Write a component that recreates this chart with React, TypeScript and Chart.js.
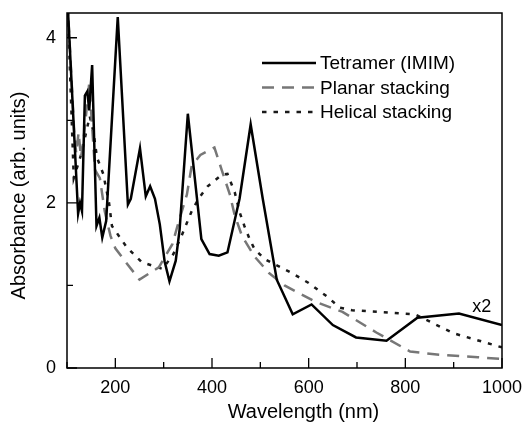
import { useEffect, useRef } from "react";
import { Chart, registerables } from "chart.js";

Chart.register(...registerables);

// ---- data ----
const tetramerX = [101, 123, 127, 131, 137, 142, 146, 152, 161, 167, 173, 181, 205, 226, 232, 251, 263, 272, 282, 292, 302, 312, 325, 333, 350, 378, 395, 414, 432, 457, 480, 505, 534, 567, 606, 650, 698, 761, 825, 911, 1000];
const tetramerY = [4.45, 1.87, 2.0, 1.9, 3.3, 3.35, 3.12, 3.67, 1.72, 1.82, 1.58, 1.78, 4.25, 1.98, 2.05, 2.66, 2.08, 2.2, 2.05, 1.74, 1.29, 1.05, 1.3, 1.68, 3.08, 1.56, 1.38, 1.36, 1.4, 2.05, 2.95, 2.05, 1.07, 0.65, 0.77, 0.52, 0.37, 0.33, 0.61, 0.66, 0.52];

const planarX = [101, 115, 119, 124, 129, 134, 146, 158, 168, 178, 190, 200, 222, 250, 290, 318, 330, 348, 358, 376, 405, 420, 437, 447, 462, 488, 518, 550, 615, 670, 740, 810, 870, 950, 1000];
const planarY = [4.45, 2.85, 2.6, 2.85, 2.55, 2.75, 3.45, 2.4, 2.3, 1.9, 1.6, 1.45, 1.28, 1.07, 1.22, 1.5, 1.75, 2.1, 2.45, 2.58, 2.67, 2.4, 2.1, 1.85, 1.6, 1.35, 1.15, 1.0, 0.8, 0.68, 0.43, 0.2, 0.16, 0.13, 0.11];

const helicalX = [101, 114, 130, 147, 155, 162, 175, 187, 193, 224, 255, 298, 320, 337, 358, 373, 391, 420, 432, 447, 457, 467, 478, 488, 509, 525, 565, 600, 637, 665, 690, 820, 900, 1000];
const helicalY = [4.45, 2.3, 2.6, 3.05, 2.85, 2.55, 2.35, 2.0, 1.72, 1.46, 1.28, 1.2, 1.38, 1.6, 1.9, 2.06, 2.2, 2.34, 2.35, 2.13, 1.89, 1.72, 1.56, 1.44, 1.32, 1.27, 1.15, 1.03, 0.87, 0.73, 0.7, 0.65, 0.42, 0.25];

const seriesLabels = ["Tetramer (IMIM)", "Planar stacking", "Helical stacking"];
const xTickValues = [100, 200, 300, 400, 500, 600, 700, 800, 900, 1000];
const xTickLabels = [200, 400, 600, 800, 1000];
const yTickValues = [0, 1, 2, 3, 4];
const yTickLabels = [0, 2, 4];
const xTitle = "Wavelength (nm)";
const yTitle = "Absorbance (arb. units)";
const noteText = "x2";
const noteAt = { x: 958, y: 0.74 };

const FONT = "'Liberation Sans', Arial, Helvetica, sans-serif";

const toPoints = (xs: number[], ys: number[]) => xs.map((x, i) => ({ x, y: ys[i] }));

const decorPlugin = {
  id: "decor",
  afterDatasetsDraw(chart: any) {
    const { ctx, chartArea: a, scales } = chart;
    const xs = scales.x;
    const ys = scales.y;
    ctx.save();
    // frame
    ctx.strokeStyle = "#000";
    ctx.lineWidth = 1.5;
    ctx.setLineDash([]);
    ctx.beginPath();
    ctx.rect(a.left, a.top, a.right - a.left, a.bottom - a.top);
    ctx.stroke();
    // inward ticks
    ctx.lineWidth = 1.3;
    ctx.beginPath();
    xTickValues.forEach((v) => {
      const px = xs.getPixelForValue(v);
      const len = xTickLabels.includes(v) ? 10 : 6;
      ctx.moveTo(px, a.bottom);
      ctx.lineTo(px, a.bottom - len);
    });
    yTickValues.forEach((v) => {
      const py = ys.getPixelForValue(v);
      const len = yTickLabels.includes(v) ? 10 : 6;
      ctx.moveTo(a.left, py);
      ctx.lineTo(a.left + len, py);
    });
    ctx.stroke();

    // axis titles
    ctx.fillStyle = "#000";
    ctx.font = `20px ${FONT}`;
    ctx.textAlign = "center";
    ctx.textBaseline = "middle";
    ctx.fillText(xTitle, (a.left + a.right) / 2 + 19, 412);
    ctx.save();
    ctx.translate(19, (a.top + a.bottom) / 2 + 5);
    ctx.rotate(-Math.PI / 2);
    ctx.fillText(yTitle, 0, 0);
    ctx.restore();

    // note
    ctx.font = `18px ${FONT}`;
    ctx.fillText(noteText, xs.getPixelForValue(noteAt.x), ys.getPixelForValue(noteAt.y));

    // legend
    ctx.font = `19px ${FONT}`;
    ctx.textAlign = "left";
    chart.data.datasets.forEach((ds: any, i: number) => {
      const y = 63 + i * 24.5;
      ctx.strokeStyle = ds.borderColor;
      ctx.lineWidth = ds.borderWidth;
      ctx.setLineDash(ds.legendDash || []);
      ctx.beginPath();
      ctx.moveTo(262, y);
      ctx.lineTo(316, y);
      ctx.stroke();
      ctx.setLineDash([]);
      ctx.fillStyle = "#000";
      ctx.fillText(ds.label, 320, y + 1);
    });
    ctx.restore();
  },
};

export default function App() {
  const ref = useRef<HTMLCanvasElement>(null);
  useEffect(() => {
    document.body.style.margin = "0";
    const canvas = ref.current!;
    const chart = new Chart(canvas, {
      type: "line",
      data: {
        datasets: [
          {
            label: seriesLabels[0],
            data: toPoints(tetramerX, tetramerY),
            borderColor: "#000",
            borderWidth: 2.5,
            pointRadius: 0,
            tension: 0,
            legendDash: [],
          } as any,
          {
            label: seriesLabels[1],
            data: toPoints(planarX, planarY),
            borderColor: "#777",
            borderWidth: 2.5,
            borderDash: [12, 8],
            pointRadius: 0,
            tension: 0,
            legendDash: [12, 8],
          } as any,
          {
            label: seriesLabels[2],
            data: toPoints(helicalX, helicalY),
            borderColor: "#1a1a1a",
            borderWidth: 2.5,
            borderDash: [4, 7],
            pointRadius: 0,
            tension: 0,
            legendDash: [4.5, 7],
          } as any,
        ],
      },
      options: {
        animation: false,
        responsive: false,
        maintainAspectRatio: false,
        layout: { padding: { left: 0, top: 13, right: 22, bottom: 0 } },
        plugins: { legend: { display: false }, tooltip: { enabled: false } },
        scales: {
          x: {
            type: "linear",
            min: 100,
            max: 1000,
            grid: { display: false, drawTicks: false },
            border: { display: false },
            afterBuildTicks: (s: any) => {
              s.ticks = xTickLabels.map((v) => ({ value: v }));
            },
            afterFit: (s: any) => {
              s.height = 57;
              s.paddingLeft = 0;
              s.paddingRight = 0;
            },
            ticks: {
              autoSkip: false,
              maxRotation: 0,
              padding: 9,
              color: "#000",
              font: { family: FONT, size: 18 },
              callback: (v: any) => String(v),
            },
          },
          y: {
            type: "linear",
            min: 0,
            max: 4.3,
            grid: { display: false, drawTicks: false },
            border: { display: false },
            afterBuildTicks: (s: any) => {
              s.ticks = yTickLabels.map((v) => ({ value: v }));
            },
            afterFit: (s: any) => {
              s.width = 67;
              s.paddingTop = 0;
              s.paddingBottom = 0;
            },
            ticks: {
              padding: 11,
              color: "#000",
              font: { family: FONT, size: 18 },
              callback: (v: any) => String(v),
            },
          },
        },
      },
      plugins: [decorPlugin],
    });
    return () => chart.destroy();
  }, []);
  return (
    <div style={{ width: 524, height: 425 }}>
      <canvas ref={ref} width={524} height={425} style={{ display: "block" }} />
    </div>
  );
}
